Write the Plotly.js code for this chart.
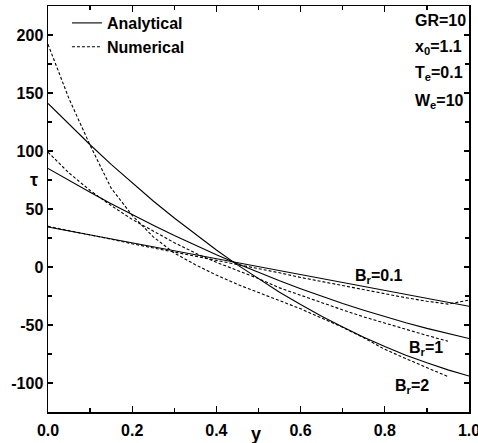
<!DOCTYPE html>
<html>
<head>
<meta charset="utf-8">
<script src="https://cdn.plot.ly/plotly-3.0.1.min.js"></script>
<style>html,body{margin:0;padding:0;background:#fff;}#plot{width:478px;height:443px;}</style>
</head>
<body>
<div id="plot"></div>
<script>
// y positions (channel coordinate)
const yGrid = [0,0.05,0.1,0.15,0.2,0.25,0.3,0.35,0.4,0.45,0.5,0.55,0.6,0.65,0.7,0.75,0.8,0.85,0.9,0.95,1.0];
const yGridNum = [0,0.05,0.1,0.15,0.2,0.25,0.3,0.35,0.4,0.45,0.5,0.55,0.6,0.65,0.7,0.75,0.8,0.85,0.9,0.95];

// Analytical tau values
const anaBr01 = [34.5,31.1,27.7,24.3,20.8,17.4,14.0,10.6,7.2,3.8,0.4,-3.1,-6.5,-9.9,-13.3,-16.7,-20.1,-23.6,-27.0,-30.4,-33.8];
const anaBr1  = [85,74.6,64.4,54.6,45.2,36.0,27.2,18.7,10.6,2.8,-4.8,-11.9,-18.7,-25.2,-31.4,-37.2,-42.8,-48.0,-52.9,-57.4,-61.6];
const anaBr2  = [141,122.8,105.4,88.5,72.4,56.9,42.2,28.0,14.6,1.8,-10.2,-21.7,-32.4,-42.5,-51.8,-60.6,-68.6,-76.0,-82.6,-88.7,-94];

// Numerical tau values
const numBr01 = [35,31.5,27.5,24,20,16.5,13,9.5,6,2.5,-1,-5,-9,-12.5,-16,-20,-23.5,-26.5,-29.5,-32,-28.5];
const numBr1  = [99,81,66,53,41,31,21,12,4,-3,-10,-18,-24.5,-31,-37,-43,-48.5,-54,-59,-64];
const numBr2  = [192,145,105,68,44.5,26,12,2,-7,-15,-22,-29,-36,-44,-52,-61,-71,-79,-87,-94.5];

const xTickVals = [0,0.2,0.4,0.6,0.8,1.0];
const xTickText = ['0.0','0.2','0.4','0.6','0.8','1.0'];
const yTickVals = [-100,-50,0,50,100,150,200];
const yTickText = ['-100','-50','0','50','100','150','200'];

const FONT = 'Liberation Sans, Arial, Helvetica, sans-serif';
const solid = {color:'#000', width:1.1, dash:'solid'};
const dashed = {color:'#000', width:1.1, dash:'3px,2px'};
const b = s => '<b>' + s + '</b>';

const traces = [
  {x:yGrid, y:anaBr01, mode:'lines', line:solid, name:b('Analytical'), showlegend:true, legendrank:1},
  {x:yGrid, y:anaBr1, mode:'lines', line:solid, showlegend:false},
  {x:yGrid, y:anaBr2, mode:'lines', line:solid, showlegend:false},
  {x:yGrid, y:numBr01, mode:'lines', line:dashed, name:b('Numerical'), showlegend:true, legendrank:2},
  {x:yGridNum, y:numBr1, mode:'lines', line:dashed, showlegend:false},
  {x:yGridNum, y:numBr2, mode:'lines', line:dashed, showlegend:false}
];

const tf = {family:FONT, size:16, color:'#000'};
const axisCommon = {
  showgrid:false, zeroline:false, showline:true, linecolor:'#000', linewidth:1.5,
  mirror:'allticks', ticks:'inside', ticklen:6, tickwidth:1.3, tickcolor:'#000',
  tickfont:tf, automargin:false, ticklabeloverflow:'allow'
};

const ann = (text, x, y, xref, yref, xanchor, size) => ({
  text: b(text), x, y, xref, yref, xanchor: xanchor||'center', yanchor:'middle', showarrow:false,
  font:{family:FONT, size:size||16, color:'#000'}
});

const layout = {
  width:478, height:443,
  margin:{l:48, r:9, t:6, b:31, pad:0},
  paper_bgcolor:'#fff', plot_bgcolor:'#fff',
  showlegend:true,
  legend:{x:0.045, y:1.0, xanchor:'left', yanchor:'top', bgcolor:'rgba(0,0,0,0)',
          font:{family:FONT, size:16, color:'#000'}, tracegroupgap:0},
  xaxis:Object.assign({}, axisCommon, {
    range:[0,1], tickvals:xTickVals, ticktext:xTickText.map(b), ticklabelstandoff:3,
    minor:{dtick:0.1, ticks:'inside', ticklen:4, tickwidth:1.3, tickcolor:'#000'}
  }),
  yaxis:Object.assign({}, axisCommon, {
    range:[-125,225], tickvals:yTickVals, ticktext:yTickText.map(b), ticklen:5,
    minor:{dtick:25, ticks:'inside', ticklen:4, tickwidth:1.3, tickcolor:'#000'}
  }),
  annotations:[
    ann('GR=10', 0.868, 0.965, 'paper', 'paper', 'left'),
    ann('x<sub>0</sub>=1.1', 0.868, 0.899, 'paper', 'paper', 'left'),
    ann('T<sub>e</sub>=0.1', 0.868, 0.833, 'paper', 'paper', 'left'),
    ann('W<sub>e</sub>=10', 0.868, 0.766, 'paper', 'paper', 'left'),
    ann('B<sub>r</sub>=0.1', 0.786, -8, 'x', 'y'),
    ann('B<sub>r</sub>=1', 0.897, -70, 'x', 'y'),
    ann('B<sub>r</sub>=2', 0.864, -103, 'x', 'y'),
    ann('τ', -0.02, 75, 'paper', 'y', 'right', 18),
    ann('y', 0.495, -0.055, 'x', 'paper', 'center', 18)
  ]
};

Plotly.newPlot('plot', traces, layout, {displayModeBar:false, staticPlot:true});
</script>
</body>
</html>
